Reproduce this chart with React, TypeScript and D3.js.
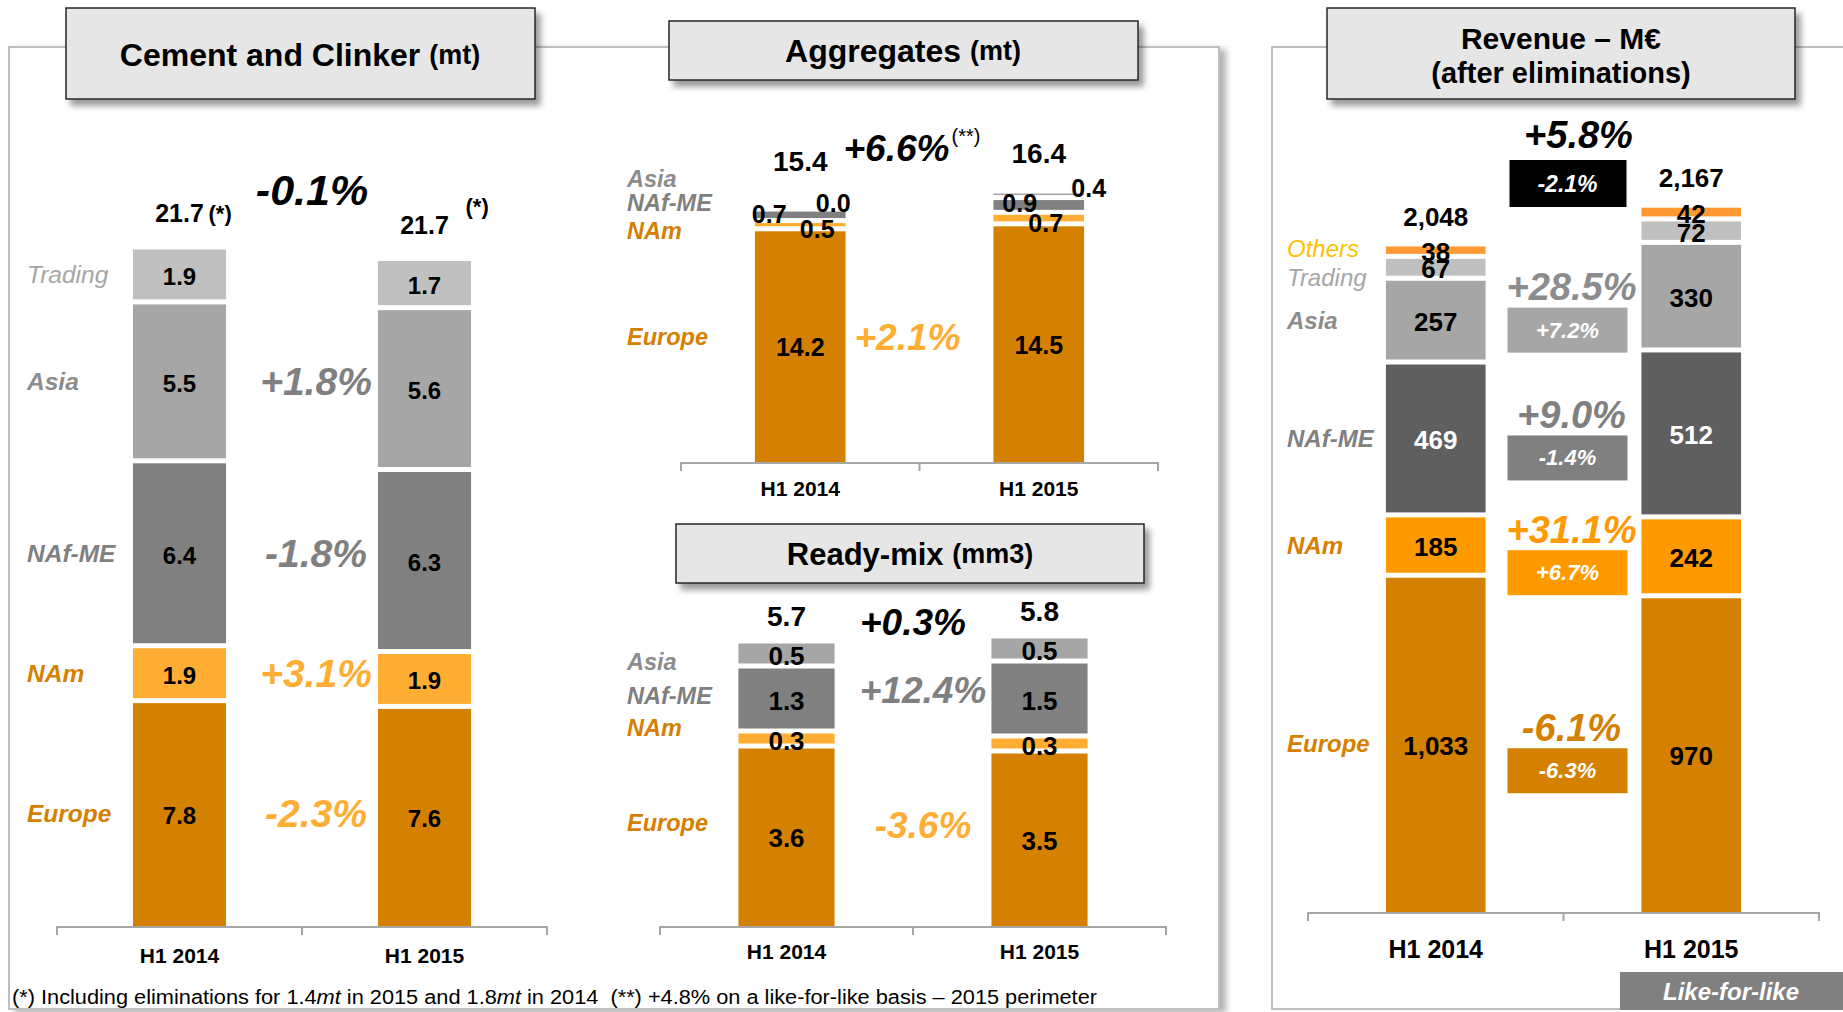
import React from 'react';
import * as d3 from 'd3';

const FONT = "'Liberation Sans', Arial, Helvetica, sans-serif";

const periods = ['H1 2014', 'H1 2015'];

// Cement and Clinker (mt) – stacked bottom to top
const cementRegions = ['Europe', 'NAm', 'NAf-ME', 'Asia', 'Trading'];
const cement2014 = [7.8, 1.9, 6.4, 5.5, 1.9];
const cement2015 = [7.6, 1.9, 6.3, 5.6, 1.7];
const cementTotals = ['21.7', '21.7'];
const cementGrowth = ['-2.3%', '+3.1%', '-1.8%', '+1.8%', ''];
const cementTotalGrowth = '-0.1%';

// Aggregates (mt)
const aggRegions = ['Europe', 'NAm', 'NAf-ME', 'Asia'];
const agg2014 = [14.2, 0.5, 0.7, 0.0];
const agg2015 = [14.5, 0.7, 0.9, 0.4];
const aggTotals = ['15.4', '16.4'];
const aggGrowth = ['+2.1%', '', '', ''];
const aggTotalGrowth = '+6.6%';

// Ready-mix (mm3)
const rmxRegions = ['Europe', 'NAm', 'NAf-ME', 'Asia'];
const rmx2014 = [3.6, 0.3, 1.3, 0.5];
const rmx2015 = [3.5, 0.3, 1.5, 0.5];
const rmxTotals = ['5.7', '5.8'];
const rmxGrowth = ['-3.6%', '', '+12.4%', ''];
const rmxTotalGrowth = '+0.3%';

// Revenue – M€ (after eliminations)
const revRegions = ['Europe', 'NAm', 'NAf-ME', 'Asia', 'Trading', 'Others'];
const rev2014 = [1033, 185, 469, 257, 67, 38];
const rev2015 = [970, 242, 512, 330, 72, 42];
const revLabels2014 = ['1,033', '185', '469', '257', '67', '38'];
const revLabels2015 = ['970', '242', '512', '330', '72', '42'];
const revTotals = ['2,048', '2,167'];
const revGrowth = ['-6.1%', '+31.1%', '+9.0%', '+28.5%', '', ''];
const revLfl = ['-6.3%', '+6.7%', '-1.4%', '+7.2%', '', ''];
const revTotalGrowth = '+5.8%';
const revTotalLfl = '-2.1%';

const fillColor: Record<string, string> = {
  Europe: '#D48000', NAm: '#FFAD33', 'NAf-ME': '#808080', Asia: '#A6A6A6', Trading: '#C0C0C0', Others: '#FF9933',
};
const revFill: Record<string, string> = { ...fillColor, NAm: '#FF9900', 'NAf-ME': '#5F5F5F' };
const nameColor: Record<string, string> = {
  Europe: '#D48000', NAm: '#D48000', 'NAf-ME': '#808080', Asia: '#8C8C8C', Trading: '#A6A6A6', Others: '#FFC000',
};
const volGrowthColor: Record<string, string> = { Europe: '#FFAD33', NAm: '#FFAD33', 'NAf-ME': '#808080', Asia: '#808080' };
const revGrowthColor: Record<string, string> = { Europe: '#D48000', NAm: '#FF9900', 'NAf-ME': '#808080', Asia: '#8C8C8C' };
const revBoxColor: Record<string, string> = { Europe: '#D48000', NAm: '#FF9900', 'NAf-ME': '#808080', Asia: '#A6A6A6' };

type Cfg = {
  regions: string[];
  values: number[][];
  labels?: string[][];
  xRange: [number, number];
  axisY: number;
  yMax: number;
  yTop: number;
  barRatio: number;
  fills: Record<string, string>;
  valueSize: number;
  nameSize: number;
  nameX: number;
  nameDy?: Record<string, number>;
  catSize: number;
  catY: number;
  valueOffsets?: Record<string, [number, number]>[];
  whiteValues?: string[];
};

function stacked(cfg: Cfg) {
  const rows = periods.map((p, i) => {
    const r: any = { period: p };
    cfg.regions.forEach((k, j) => (r[k] = cfg.values[i][j]));
    return r;
  });
  return d3.stack().keys(cfg.regions)(rows);
}

function yScale(cfg: Cfg) {
  return d3.scaleLinear().domain([0, cfg.yMax]).range([cfg.axisY, cfg.yTop]);
}

function StackPanel({ cfg }: { cfg: Cfg }) {
  const x = d3.scaleBand().domain(periods).range(cfg.xRange);
  const y = yScale(cfg);
  const series = stacked(cfg);
  const bw = x.bandwidth() * cfg.barRatio;
  const gap = 2.5;
  const ticks = [...periods.map((p) => x(p) as number), cfg.xRange[1]];

  return (
    <g>
      {series.map((s, si) =>
        s.map((d, pi) => {
          const cx = (x(periods[pi]) as number) + x.bandwidth() / 2;
          const top = y(d[1]) + gap;
          const bottom = si === 0 ? y(d[0]) : y(d[0]) - gap;
          const h = bottom - top;
          if (d[1] - d[0] <= 0 || h <= 0) return null;
          return (
            <rect key={`${s.key}-${pi}`} x={cx - bw / 2} y={top} width={bw} height={h} fill={cfg.fills[s.key]} />
          );
        })
      )}
      {series.map((s, si) =>
        s.map((d, pi) => {
          const cx = (x(periods[pi]) as number) + x.bandwidth() / 2;
          const off = cfg.valueOffsets?.[pi]?.[s.key] ?? [0, 0];
          const cy = (y(d[0]) + y(d[1])) / 2 + 2;
          const txt = cfg.labels ? cfg.labels[pi][si] : d3.format('.1f')(cfg.values[pi][si]);
          return (
            <text key={`v-${s.key}-${pi}`} x={cx + off[0]} y={cy + off[1]} textAnchor="middle" dominantBaseline="central"
              fontSize={cfg.valueSize} fontWeight="bold" fill={cfg.whiteValues?.includes(s.key) ? '#fff' : '#000'}>
              {txt}
            </text>
          );
        })
      )}
      {series.map((s) => {
        const d = s[0];
        const italicOnly = s.key === 'Trading' || s.key === 'Others';
        return (
          <text key={`n-${s.key}`} x={cfg.nameX} y={(y(d[0]) + y(d[1])) / 2 + (cfg.nameDy?.[s.key] ?? 0)}
            dominantBaseline="central" fontSize={cfg.nameSize} fontStyle="italic"
            fontWeight={italicOnly ? 'normal' : 'bold'} fill={nameColor[s.key]}>
            {s.key}
          </text>
        );
      })}
      <line x1={cfg.xRange[0]} x2={cfg.xRange[1]} y1={cfg.axisY + 1} y2={cfg.axisY + 1} stroke="#A6A6A6" strokeWidth={2} />
      {ticks.map((t, i) => (
        <line key={`t${i}`} x1={t} x2={t} y1={cfg.axisY} y2={cfg.axisY + 9} stroke="#A6A6A6" strokeWidth={2} />
      ))}
      {periods.map((p) => (
        <text key={p} x={(x(p) as number) + x.bandwidth() / 2} y={cfg.catY} textAnchor="middle" dominantBaseline="central"
          fontSize={cfg.catSize} fontWeight="bold">
          {p}
        </text>
      ))}
    </g>
  );
}

function TitleBox({ x, y, w, h, children }: { x: number; y: number; w: number; h: number; children: React.ReactNode }) {
  return (
    <g>
      <rect x={x} y={y} width={w} height={h} fill="#E6E6E6" stroke="#262626" strokeWidth={1.5} filter="url(#boxShadow)" />
      {children}
    </g>
  );
}

const cementCfg: Cfg = {
  regions: cementRegions, values: [cement2014, cement2015],
  xRange: [57, 547], axisY: 926, yMax: 23.5, yTop: 247, barRatio: 0.38, fills: fillColor,
  valueSize: 24, nameSize: 24.5, nameX: 27, catSize: 21, catY: 955,
};
const aggCfg: Cfg = {
  regions: aggRegions, values: [agg2014, agg2015],
  xRange: [681, 1158], axisY: 462, yMax: 16.5, yTop: 191, barRatio: 0.38, fills: fillColor,
  valueSize: 25, nameSize: 23.5, nameX: 627, catSize: 21, catY: 488,
  nameDy: { Asia: -30, 'NAf-ME': -12, NAm: 6, Europe: -8 },
  valueOffsets: [
    { NAm: [17, 2], 'NAf-ME': [-31, -3], Asia: [33, -8] },
    { NAm: [7, 3], 'NAf-ME': [-19, -4], Asia: [50, -8] },
  ],
};
const rmxCfg: Cfg = {
  regions: rmxRegions, values: [rmx2014, rmx2015],
  xRange: [660, 1166], axisY: 926, yMax: 5.7, yTop: 641, barRatio: 0.38, fills: fillColor,
  valueSize: 26, nameSize: 23.5, nameX: 627, catSize: 21, catY: 951,
  nameDy: { Asia: 8, 'NAf-ME': -3, NAm: -11, Europe: -13 },
};
const revCfg: Cfg = {
  regions: revRegions, values: [rev2014, rev2015], labels: [revLabels2014, revLabels2015],
  xRange: [1308, 1819], axisY: 912, yMax: 2049, yTop: 244, barRatio: 0.39, fills: revFill,
  valueSize: 26, nameSize: 24, nameX: 1287, catSize: 25, catY: 949,
  nameDy: { Trading: 10, Others: -2 }, whiteValues: ['NAf-ME'],
};

function segCenters(cfg: Cfg, pi: number) {
  const y = yScale(cfg);
  return stacked(cfg).map((s) => (y(s[pi][0]) + y(s[pi][1])) / 2);
}
function barTop(cfg: Cfg, pi: number) {
  return yScale(cfg)(d3.sum(cfg.values[pi]));
}
function barCenter(cfg: Cfg, pi: number) {
  const x = d3.scaleBand().domain(periods).range(cfg.xRange);
  return (x(periods[pi]) as number) + x.bandwidth() / 2;
}
function midTick(cfg: Cfg) {
  const x = d3.scaleBand().domain(periods).range(cfg.xRange);
  return x(periods[1]) as number;
}

export default function App() {
  const cem1 = segCenters(cementCfg, 0);
  const agg1 = segCenters(aggCfg, 0);
  const rmx1 = segCenters(rmxCfg, 0);
  const rv1 = segCenters(revCfg, 0);
  const rv2 = segCenters(revCfg, 1);
  const revMid = midTick(revCfg) + 4;

  return (
    <svg width={1843} height={1012} style={{ position: 'absolute', left: 0, top: 0, background: '#fff' }} fontFamily={FONT}>
      <defs>
        <filter id="boxShadow" x="-10%" y="-20%" width="130%" height="160%">
          <feDropShadow dx={5} dy={6} stdDeviation={3} floodColor="#000" floodOpacity={0.4} />
        </filter>
        <filter id="panelShadow" x="-5%" y="-5%" width="112%" height="112%">
          <feDropShadow dx={6} dy={3} stdDeviation={3} floodColor="#000" floodOpacity={0.3} />
        </filter>
      </defs>
      <rect width={1843} height={1012} fill="#fff" />

      {/* frames */}
      <rect x={9} y={47} width={1210} height={962} fill="#fff" stroke="#BFBFBF" strokeWidth={2} filter="url(#panelShadow)" />
      <rect x={1272} y={47} width={640} height={962} fill="#fff" stroke="#BFBFBF" strokeWidth={2} />

      {/* Cement and Clinker */}
      <StackPanel cfg={cementCfg} />
      {cementGrowth.map((g, i) =>
        g ? (
          <text key={`cg${i}`} x={midTick(cementCfg) + 14} y={cem1[i]} textAnchor="middle" dominantBaseline="central"
            fontSize={39} fontWeight="bold" fontStyle="italic" fill={volGrowthColor[cementRegions[i]]}>
            {g}
          </text>
        ) : null
      )}
      <text x={barCenter(cementCfg, 0)} y={barTop(cementCfg, 0) - 34} textAnchor="middle" dominantBaseline="central"
        fontSize={25} fontWeight="bold">{cementTotals[0]}</text>
      <text x={barCenter(cementCfg, 0) + 29} y={barTop(cementCfg, 0) - 34} dominantBaseline="central" fontSize={22} fontWeight="bold">(*)</text>
      <text x={barCenter(cementCfg, 1)} y={barTop(cementCfg, 1) - 34} textAnchor="middle" dominantBaseline="central"
        fontSize={25} fontWeight="bold">{cementTotals[1]}</text>
      <text x={barCenter(cementCfg, 1) + 41} y={barTop(cementCfg, 1) - 52} dominantBaseline="central" fontSize={22} fontWeight="bold">(*)</text>
      <text x={midTick(cementCfg) + 10} y={190} textAnchor="middle" dominantBaseline="central" fontSize={43}
        fontWeight="bold" fontStyle="italic">{cementTotalGrowth}</text>

      {/* Aggregates */}
      <StackPanel cfg={aggCfg} />
      {aggGrowth.map((g, i) =>
        g ? (
          <text key={`ag${i}`} x={midTick(aggCfg) - 12} y={agg1[i] - 8} textAnchor="middle" dominantBaseline="central"
            fontSize={37} fontWeight="bold" fontStyle="italic" fill={volGrowthColor[aggRegions[i]]}>
            {g}
          </text>
        ) : null
      )}
      {aggTotals.map((t, i) => (
        <text key={`at${i}`} x={barCenter(aggCfg, i)} y={i === 0 ? 161 : 153} textAnchor="middle" dominantBaseline="central"
          fontSize={28} fontWeight="bold">{t}</text>
      ))}
      <text x={midTick(aggCfg) - 23} y={148} textAnchor="middle" dominantBaseline="central" fontSize={37}
        fontWeight="bold" fontStyle="italic">{aggTotalGrowth}</text>
      <text x={midTick(aggCfg) + 32} y={136} dominantBaseline="central" fontSize={20}>(**)</text>

      {/* Ready-mix */}
      <StackPanel cfg={rmxCfg} />
      {rmxGrowth.map((g, i) =>
        g ? (
          <text key={`rg${i}`} x={midTick(rmxCfg) + 10} y={rmx1[i] + (i === 0 ? -11 : -8)} textAnchor="middle" dominantBaseline="central"
            fontSize={37} fontWeight="bold" fontStyle="italic" fill={volGrowthColor[rmxRegions[i]]}>
            {g}
          </text>
        ) : null
      )}
      {rmxTotals.map((t, i) => (
        <text key={`rt${i}`} x={barCenter(rmxCfg, i)} y={barTop(rmxCfg, i) - 25} textAnchor="middle" dominantBaseline="central"
          fontSize={28} fontWeight="bold">{t}</text>
      ))}
      <text x={midTick(rmxCfg)} y={622} textAnchor="middle" dominantBaseline="central" fontSize={37}
        fontWeight="bold" fontStyle="italic">{rmxTotalGrowth}</text>

      {/* Revenue */}
      <StackPanel cfg={revCfg} />
      {revGrowth.map((g, i) => {
        if (!g) return null;
        const cy = (rv1[i] + rv2[i]) / 2;
        return (
          <g key={`rv${i}`}>
            <text x={revMid + 4} y={cy - 21} textAnchor="middle" dominantBaseline="central" fontSize={38}
              fontWeight="bold" fontStyle="italic" fill={revGrowthColor[revRegions[i]]}>{g}</text>
            <rect x={revMid - 60} y={cy + 22 - 22.5} width={120} height={45} fill={revBoxColor[revRegions[i]]} />
            <text x={revMid} y={cy + 22} textAnchor="middle" dominantBaseline="central" fontSize={22}
              fontWeight="bold" fontStyle="italic" fill="#fff">{revLfl[i]}</text>
          </g>
        );
      })}
      {revTotals.map((t, i) => (
        <text key={`vt${i}`} x={barCenter(revCfg, i)} y={barTop(revCfg, i) - 27} textAnchor="middle" dominantBaseline="central"
          fontSize={26} fontWeight="bold">{t}</text>
      ))}
      <text x={revMid + 11} y={135} textAnchor="middle" dominantBaseline="central" fontSize={38}
        fontWeight="bold" fontStyle="italic">{revTotalGrowth}</text>
      <rect x={revMid - 58} y={160} width={117} height={47} fill="#000" />
      <text x={revMid} y={184} textAnchor="middle" dominantBaseline="central" fontSize={23}
        fontWeight="bold" fontStyle="italic" fill="#fff">{revTotalLfl}</text>
      <rect x={1620} y={972} width={240} height={38} fill="#808080" />
      <text x={1731} y={991} textAnchor="middle" dominantBaseline="central" fontSize={24}
        fontWeight="bold" fontStyle="italic" fill="#fff">Like-for-like</text>

      {/* title boxes */}
      <TitleBox x={66} y={8} w={469} h={91}>
        <text x={300} y={55} textAnchor="middle" dominantBaseline="central" fontSize={32} fontWeight="bold">
          Cement and Clinker <tspan fontSize={27}>(mt)</tspan>
        </text>
      </TitleBox>
      <TitleBox x={669} y={21} w={469} h={59}>
        <text x={903} y={51} textAnchor="middle" dominantBaseline="central" fontSize={32} fontWeight="bold">
          Aggregates <tspan fontSize={27}>(mt)</tspan>
        </text>
      </TitleBox>
      <TitleBox x={676} y={524} w={468} h={59}>
        <text x={910} y={554} textAnchor="middle" dominantBaseline="central" fontSize={31} fontWeight="bold">
          Ready-mix <tspan fontSize={27}>(mm3)</tspan>
        </text>
      </TitleBox>
      <TitleBox x={1327} y={8} w={468} h={91}>
        <text x={1561} y={38} textAnchor="middle" dominantBaseline="central" fontSize={30} fontWeight="bold">Revenue – M€</text>
        <text x={1561} y={73} textAnchor="middle" dominantBaseline="central" fontSize={29} fontWeight="bold">(after eliminations)</text>
      </TitleBox>

      {/* footnote */}
      <text x={12} y={997} dominantBaseline="central" fontSize={20} textLength={1085} lengthAdjust="spacingAndGlyphs"
        style={{ whiteSpace: 'pre' }}>
        (*) Including eliminations for 1.4<tspan fontStyle="italic">mt</tspan> in 2015 and 1.8<tspan fontStyle="italic">mt</tspan> in 2014  (**) +4.8% on a like-for-like basis – 2015 perimeter
      </text>
    </svg>
  );
}
